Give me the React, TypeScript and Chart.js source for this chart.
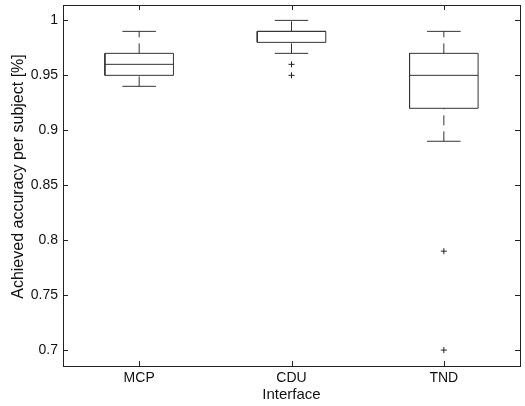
import React, { useEffect, useRef } from "react";
import { Chart, registerables } from "chart.js";

Chart.register(...registerables);

const categories = ["MCP", "CDU", "TND"];
const lowerWhisker = [0.94, 0.97, 0.89];
const q1 = [0.95, 0.98, 0.92];
const median = [0.96, 0.99, 0.95];
const q3 = [0.97, 0.99, 0.97];
const upperWhisker = [0.99, 1.0, 0.99];
const outliers = [[], [0.96, 0.95], [0.79, 0.7]];
const yTicks = [0.7, 0.75, 0.8, 0.85, 0.9, 0.95, 1];
const xTicks = [1, 2, 3];
const xTitle = "Interface";
const yTitle = "Achieved accuracy per subject [%]";

const FONT = "'Liberation Sans', Arial, Helvetica, sans-serif";
const LINE = "#333";
const BOX_HALF = 0.225;
const CAP_HALF = 0.11;

const insideTicks = {
  id: "insideTicks",
  afterDraw(chart: any) {
    const { ctx, chartArea } = chart;
    const { left, right, top, bottom } = chartArea;
    const xs = chart.scales.x;
    const ys = chart.scales.y;
    const L = 5;
    ctx.save();
    ctx.strokeStyle = "#222";
    ctx.lineWidth = 1;
    ctx.beginPath();
    yTicks.forEach((v) => {
      const py = Math.round(ys.getPixelForValue(v)) + 0.5;
      ctx.moveTo(left, py);
      ctx.lineTo(left + L, py);
      ctx.moveTo(right, py);
      ctx.lineTo(right - L, py);
    });
    xTicks.forEach((v) => {
      const px = Math.round(xs.getPixelForValue(v)) + 0.5;
      ctx.moveTo(px, bottom);
      ctx.lineTo(px, bottom - L);
      ctx.moveTo(px, top);
      ctx.lineTo(px, top + L);
    });
    ctx.stroke();
    ctx.strokeRect(Math.round(left) + 0.5, Math.round(top) + 0.5, Math.round(right - left), Math.round(bottom - top));
    // y axis title
    ctx.fillStyle = "#111";
    ctx.font = `16px ${FONT}`;
    ctx.textAlign = "center";
    ctx.textBaseline = "middle";
    ctx.translate(19, (top + bottom) / 2 - 9);
    ctx.rotate(-Math.PI / 2);
    ctx.fillText(yTitle, 0, 0);
    ctx.restore();
  },
};

function lineDs(data: any[], dashed = false) {
  return {
    type: "scatter" as const,
    data,
    showLine: true,
    pointRadius: 0,
    borderColor: LINE,
    borderWidth: 1,
    borderDash: dashed ? [10, 6] : [],
    borderJoinStyle: "miter",
    borderCapStyle: "butt",
    fill: false,
    tension: 0,
  };
}

export default function App() {
  const ref = useRef<HTMLCanvasElement>(null);
  useEffect(() => {
    if (!ref.current) return;
    const datasets: any[] = [];
    categories.forEach((_, i) => {
      const c = i + 1;
      datasets.push(lineDs([{ x: c, y: lowerWhisker[i] }, { x: c, y: q1[i] }], true));
      datasets.push(lineDs([{ x: c, y: q3[i] }, { x: c, y: upperWhisker[i] }], true));
      datasets.push(lineDs([{ x: c - CAP_HALF, y: lowerWhisker[i] }, { x: c + CAP_HALF, y: lowerWhisker[i] }]));
      datasets.push(lineDs([{ x: c - CAP_HALF, y: upperWhisker[i] }, { x: c + CAP_HALF, y: upperWhisker[i] }]));
      datasets.push(
        lineDs([
          { x: c - BOX_HALF, y: q1[i] },
          { x: c + BOX_HALF, y: q1[i] },
          { x: c + BOX_HALF, y: q3[i] },
          { x: c - BOX_HALF, y: q3[i] },
          { x: c - BOX_HALF, y: q1[i] },
        ])
      );
      datasets.push(lineDs([{ x: c - BOX_HALF, y: median[i] }, { x: c + BOX_HALF, y: median[i] }]));
    });
    const outPts: any[] = [];
    outliers.forEach((arr, i) => arr.forEach((v) => outPts.push({ x: i + 1, y: v })));
    datasets.push({
      type: "scatter",
      data: outPts,
      showLine: false,
      pointStyle: "cross",
      pointRadius: 3,
      borderColor: "#222",
      backgroundColor: "#222",
      borderWidth: 1,
    });

    const chart = new Chart(ref.current, {
      type: "scatter",
      data: { datasets },
      options: {
        animation: false,
        responsive: false,
        devicePixelRatio: 1,
        layout: { padding: { top: 5, right: 5, left: 0, bottom: 0 } },
        plugins: { legend: { display: false }, tooltip: { enabled: false } },
        scales: {
          x: {
            type: "linear",
            min: 0.5,
            max: 3.5,
            grid: { display: false, drawTicks: false, tickLength: 0 },
            border: { display: false },
            afterBuildTicks: (s: any) => {
              s.ticks = xTicks.map((v) => ({ value: v }));
            },
            afterFit: (s: any) => {
              s.height = 40;
              s.paddingLeft = 0;
              s.paddingRight = 0;
            },
            ticks: {
              padding: 4,
              color: "#111",
              font: { family: FONT, size: 14 },
              callback: (v: any) => categories[Math.round(Number(v)) - 1] ?? "",
            },
            title: {
              display: true,
              text: xTitle,
              color: "#111",
              font: { family: FONT, size: 15 },
              padding: { top: 0, bottom: 2 },
            },
          },
          y: {
            type: "linear",
            min: 0.6855,
            max: 1.014,
            grid: { display: false, drawTicks: false, tickLength: 0 },
            border: { display: false },
            afterBuildTicks: (s: any) => {
              s.ticks = yTicks.map((v) => ({ value: v }));
            },
            afterFit: (s: any) => {
              s.width = 63;
              s.paddingTop = 0;
              s.paddingBottom = 0;
            },
            ticks: {
              padding: 5,
              color: "#111",
              font: { family: FONT, size: 14 },
              callback: (v: any) => String(Math.round(Number(v) * 100) / 100),
            },
            title: { display: false },
          },
        },
      } as any,
      plugins: [insideTicks],
    });
    return () => chart.destroy();
  }, []);
  return (
    <div style={{ position: "absolute", left: 0, top: 0, width: 525, height: 406, background: "#fff" }}>
      <canvas ref={ref} width={525} height={406} style={{ display: "block" }} />
    </div>
  );
}
